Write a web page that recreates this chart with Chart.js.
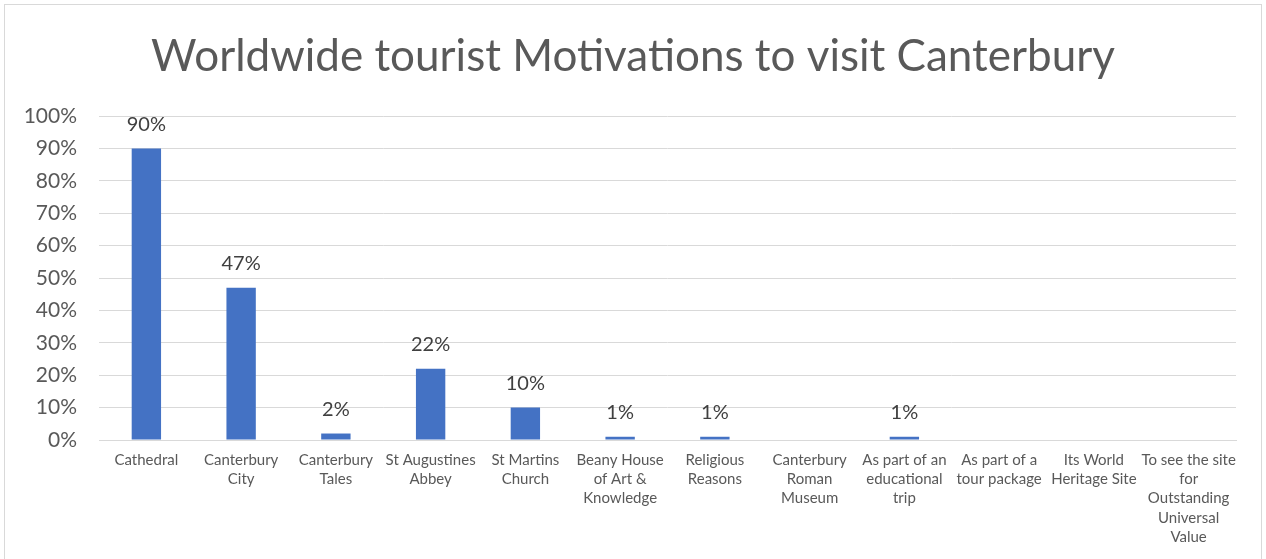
<!DOCTYPE html>
<html>
<head>
<meta charset="utf-8">
<script src="https://cdn.jsdelivr.net/npm/chart.js@4"></script>
<style>
  html, body { margin: 0; padding: 0; background: #fff; overflow: hidden; }
  #frame {
    position: absolute; left: 4px; top: 4px;
    width: 1256px; height: 560px;
    border: 1px solid #d9d9d9; background: #fff;
  }
  #chart { display: block; }
</style>
</head>
<body>
<div id="frame"><canvas id="chart" width="1256" height="554"></canvas></div>
<script>
// Motivations, one entry per category (multi-line labels as arrays)
const motivations = [
  'Cathedral',
  ['Canterbury', 'City'],
  ['Canterbury', 'Tales'],
  ['St Augustines', 'Abbey'],
  ['St Martins', 'Church'],
  ['Beany House', 'of Art &', 'Knowledge'],
  ['Religious', 'Reasons'],
  ['Canterbury', 'Roman', 'Museum'],
  ['As part of an', 'educational', 'trip'],
  ['As part of a', 'tour package'],
  ['Its World', 'Heritage Site'],
  ['To see the site', 'for', 'Outstanding', 'Universal', 'Value'],
];

// Share of tourists (fraction)
const shares = [0.90, 0.47, 0.02, 0.22, 0.10, 0.01, 0.01, 0, 0.01, 0, 0, 0];

const yTicks = [0, 0.1, 0.2, 0.3, 0.4, 0.5, 0.6, 0.7, 0.8, 0.9, 1.0];

const TITLE = 'Worldwide tourist Motivations to visit Canterbury';
const FONT = 'Lato, "Open Sans", "Noto Sans", sans-serif';
const pct = v => Math.round(v * 100) + '%';

// Title centred on the whole canvas (the plot area is offset to the left)
const centredTitle = {
  id: 'centredTitle',
  afterDraw(chart) {
    const ctx = chart.ctx;
    ctx.save();
    ctx.font = '44px ' + FONT;
    ctx.fillStyle = '#595959';
    ctx.textAlign = 'center';
    ctx.textBaseline = 'middle';
    ctx.fillText(TITLE, chart.width / 2, 52);
    ctx.restore();
  }
};

// Value labels above each non-zero bar
const barValueLabels = {
  id: 'barValueLabels',
  afterDatasetsDraw(chart) {
    const ctx = chart.ctx;
    const meta = chart.getDatasetMeta(0);
    ctx.save();
    ctx.font = '20px ' + FONT;
    ctx.fillStyle = '#404040';
    ctx.textAlign = 'center';
    ctx.textBaseline = 'middle';
    meta.data.forEach((bar, i) => {
      const v = shares[i];
      if (!v) return;
      ctx.fillText(pct(v), bar.x, bar.y - 24);
    });
    ctx.restore();
  }
};

new Chart(document.getElementById('chart'), {
  type: 'bar',
  data: {
    labels: motivations,
    datasets: [{
      data: shares,
      backgroundColor: '#4472C4',
      borderWidth: 0,
      barPercentage: 0.31,
      categoryPercentage: 1.0,
    }],
  },
  options: {
    responsive: false,
    animation: false,
    layout: { padding: { left: 0, right: 25, top: 111, bottom: 0 } },
    plugins: {
      legend: { display: false },
      tooltip: { enabled: false },
      title: { display: false },
    },
    scales: {
      x: {
        grid: { display: false, drawTicks: false },
        border: { color: '#d9d9d9', width: 1 },
        ticks: {
          color: '#595959',
          font: { family: FONT, size: 15, lineHeight: 1.27 },
          maxRotation: 0,
          minRotation: 0,
          autoSkip: false,
          padding: 11,
        },
        afterFit(scale) { scale.height = 119; },
      },
      y: {
        min: 0,
        max: 1,
        afterBuildTicks(scale) { scale.ticks = yTicks.map(v => ({ value: v })); },
        grid: { color: '#d9d9d9', drawTicks: false },
        border: { display: false },
        ticks: {
          color: '#595959',
          font: { family: FONT, size: 21 },
          padding: 22,
          callback: v => pct(v),
        },
        afterFit(scale) { scale.width = 94; },
      },
    },
  },
  plugins: [barValueLabels, centredTitle],
});
</script>
</body>
</html>
